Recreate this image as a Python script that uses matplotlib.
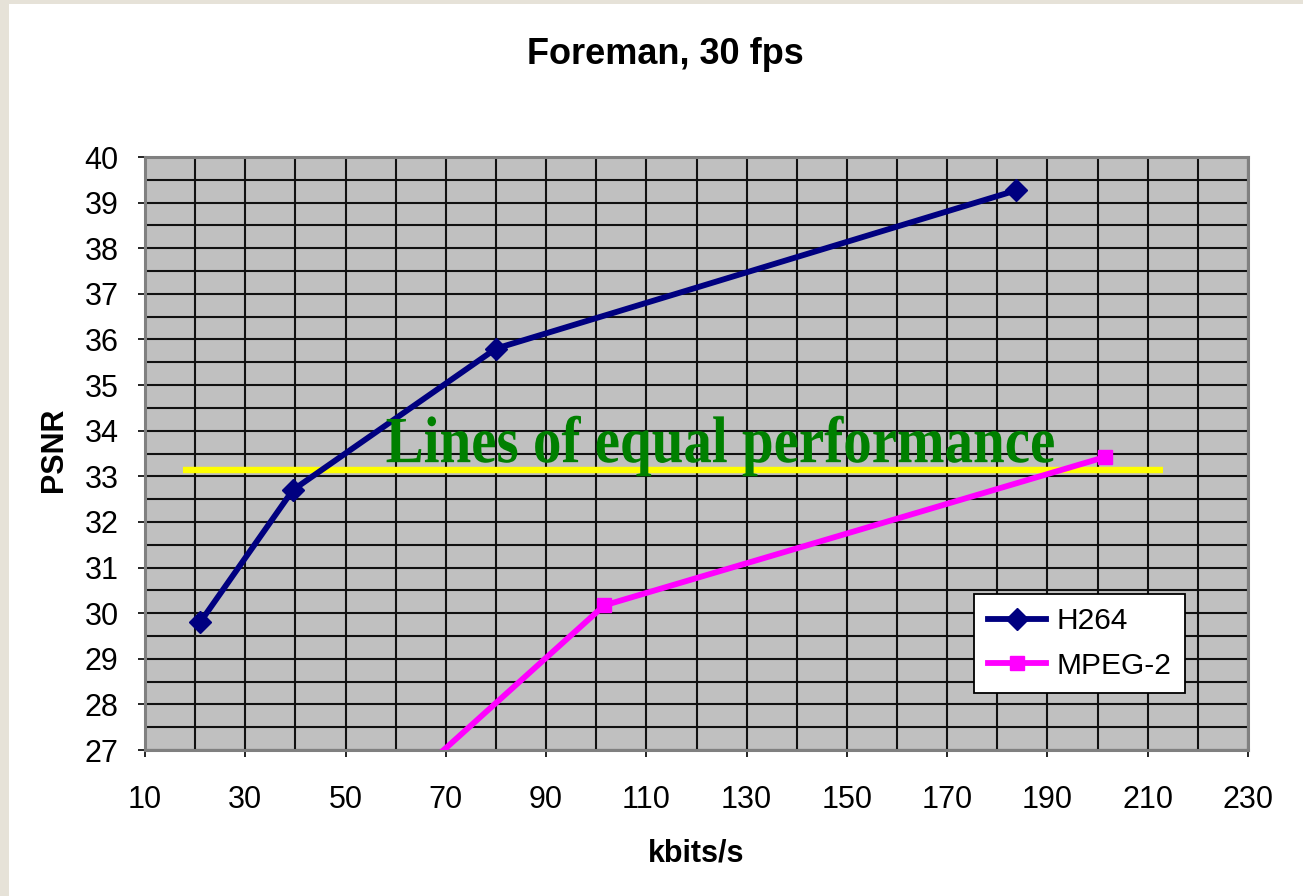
import matplotlib
matplotlib.use("Agg")
import matplotlib.pyplot as plt
from matplotlib.patches import Rectangle, PathPatch
from matplotlib.textpath import TextPath
from matplotlib.font_manager import FontProperties
from matplotlib.transforms import Affine2D, ScaledTranslation

# Rate-distortion data (kbit/s vs PSNR in dB)
h264_rate = [21, 39.5, 80, 183.8]
h264_psnr = [29.8, 32.7, 35.8, 39.27]
mpeg2_rate = [60, 101.6, 201.4]
mpeg2_psnr = [26.05, 30.17, 33.42]

# Horizontal reference line of equal quality
equal_rate = [17.6, 213]
equal_psnr = [33.14, 33.14]

x_ticks = list(range(10, 231, 20))
y_ticks = list(range(27, 41))

W, H, DPI = 1303, 896, 100
fig = plt.figure(figsize=(W / DPI, H / DPI), dpi=DPI, facecolor="#e6e2d8")
fig.patches.append(Rectangle((9 / W, 0), 1, 1 - 4 / H, transform=fig.transFigure,
                             facecolor="white", edgecolor="none", zorder=-10))

ax = fig.add_axes([145 / W, 1 - 750 / H, (1248 - 145) / W, (750 - 157) / H])
ax.set_facecolor("#c0c0c0")
ax.set_xlim(10, 230)
ax.set_ylim(27, 40)
ax.set_xticks(x_ticks)
ax.set_xticks(range(20, 230, 20), minor=True)
ax.set_yticks(y_ticks)
ax.set_yticks([v + 0.5 for v in y_ticks[:-1]], minor=True)
ax.grid(True, which="both", color="#111111", lw=1.5)
ax.set_axisbelow(True)
for s in ax.spines.values():
    s.set_color("#808080")
    s.set_linewidth(2.2)
ax.tick_params(which="major", direction="out", length=5, width=1.2, color="black",
               labelsize=22, labelfontfamily="Liberation Sans")
ax.tick_params(axis="x", which="major", pad=20)
ax.tick_params(axis="y", which="major", pad=14)
ax.tick_params(which="minor", length=0)

ax.plot(equal_rate, equal_psnr, color="#ffff00", lw=4.6, solid_capstyle="butt", zorder=3)
ax.plot(h264_rate, h264_psnr, color="#000080", lw=4.2, marker="D", ms=11,
        label="H264", zorder=4)
ax.plot(mpeg2_rate, mpeg2_psnr, color="#ff00ff", lw=4.2, marker="s", ms=10.5,
        label="MPEG-2", zorder=4)

# Condensed bold serif caption drawn as a scaled text path
fp = FontProperties(family="Liberation Serif", weight="bold")
tp = TextPath((0, 0), "Lines of equal performance", size=1, prop=fp)
tr = Affine2D().scale(57, 66) + ScaledTranslation(58.0, 33.31, ax.transData)
ax.add_patch(PathPatch(tp, transform=tr, facecolor="#008000", edgecolor="none",
                       zorder=5, clip_on=False))

leg = ax.legend(loc="lower left", bbox_to_anchor=(0.752, 0.096), borderaxespad=0,
                prop=FontProperties(family="Liberation Sans", size=21.5),
                fancybox=False, framealpha=1, edgecolor="black",
                handlelength=1.95, labelspacing=0.55, borderpad=0.45, handletextpad=0.35)
leg.get_frame().set_linewidth(1.3)

fig.text(665 / W, 1 - 55 / H, "Foreman, 30 fps", ha="center", va="center",
         fontsize=26, fontweight="bold", family="Liberation Sans")
fig.text(54 / W, 1 - 450 / H, "PSNR", ha="center", va="center", rotation=90,
         fontsize=22, fontweight="bold", family="Liberation Sans")
fig.text(696 / W, 1 - 853 / H, "kbits/s", ha="center", va="center",
         fontsize=22, fontweight="bold", family="Liberation Sans")

fig.savefig("out.png", dpi=DPI, facecolor=fig.get_facecolor())
